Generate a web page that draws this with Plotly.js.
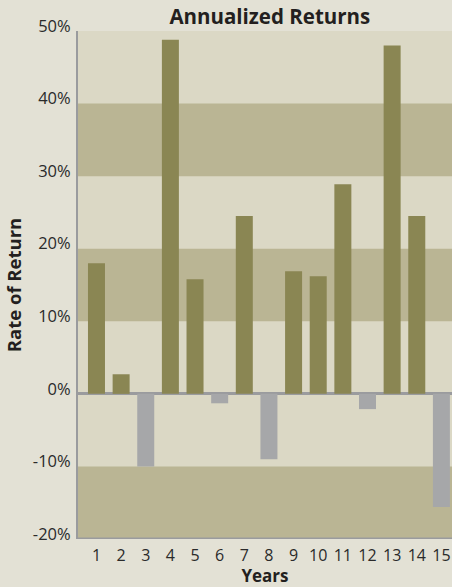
<!DOCTYPE html>
<html>
<head>
<meta charset="utf-8">
<script src="https://cdn.plot.ly/plotly-3.0.1.min.js"></script>
<style>html,body{margin:0;padding:0;background:#e3e1d5;}#chart{width:452px;height:587px;}</style>
</head>
<body>
<div id="chart"></div>
<script>
const years = ['1','2','3','4','5','6','7','8','9','10','11','12','13','14','15'];
const returns = [18.0, 2.7, -10.0, 48.8, 15.8, -1.3, 24.5, -9.0, 16.9, 16.2, 28.9, -2.1, 48.0, 24.5, -15.6];
const bandRanges = [[30, 40], [10, 20], [-20, -10]];
const yTicks = [-20, -10, 0, 10, 20, 30, 40, 50];
const yTickText = ['-20%', '-10%', '0%', '10%', '20%', '30%', '40%', '50%'];

const posColor = '#8a8653';
const negColor = '#a6a7a9';
const fontFam = '"Open Sans", Lato, sans-serif';

const trace = {
  type: 'bar',
  x: years,
  y: returns,
  marker: {color: returns.map(v => v >= 0 ? posColor : negColor)},
  hoverinfo: 'x+y'
};

const shapes = bandRanges.map(r => ({
  type: 'rect', xref: 'paper', yref: 'y', x0: 0, x1: 1, y0: r[0], y1: r[1],
  fillcolor: '#bab594', line: {width: 0}, layer: 'below'
}));

const layout = {
  width: 452, height: 587,
  margin: {l: 78, r: 0, t: 31, b: 48},
  paper_bgcolor: '#e3e1d5',
  plot_bgcolor: '#dbd8c5',
  bargap: 0.31,
  showlegend: false,
  font: {family: fontFam, color: '#2a2a2a', size: 15},
  title: {text: '<b>Annualized Returns</b>', x: 0.597, xanchor: 'center', y: 0.972, yanchor: 'middle',
          font: {size: 20.5, family: fontFam, color: '#231f20'}},
  xaxis: {
    type: 'category',
    range: [-0.75, 14.43],
    showgrid: false, zeroline: false,
    showline: false, ticks: '',
    ticklabelstandoff: 5,
    tickfont: {size: 16, color: '#2a2a2a'},
    title: {text: '<b>Years</b>', font: {size: 17, color: '#231f20'}, standoff: 0}
  },
  yaxis: {
    range: [-20, 50],
    tickvals: yTicks,
    ticktext: yTickText,
    showgrid: false,
    zeroline: true, zerolinecolor: '#9a9b9e', zerolinewidth: 3,
    showline: true, linecolor: '#9a9b9e', linewidth: 2, mirror: false,
    ticks: '',
    ticklabelshift: -5,
    ticklabelstandoff: 2,
    tickfont: {size: 16.5, color: '#2a2a2a'},
    title: {text: '<b>Rate of Return</b>', font: {size: 18.5, color: '#231f20'}, standoff: 6}
  },
  shapes: shapes.concat([{
    type: 'line', xref: 'paper', yref: 'y', x0: 0, x1: 1, y0: -20, y1: -20,
    line: {color: '#9a9b9e', width: 3}, layer: 'above'
  }])
};

Plotly.newPlot('chart', [trace], layout, {displayModeBar: false, staticPlot: true});
</script>
</body>
</html>
